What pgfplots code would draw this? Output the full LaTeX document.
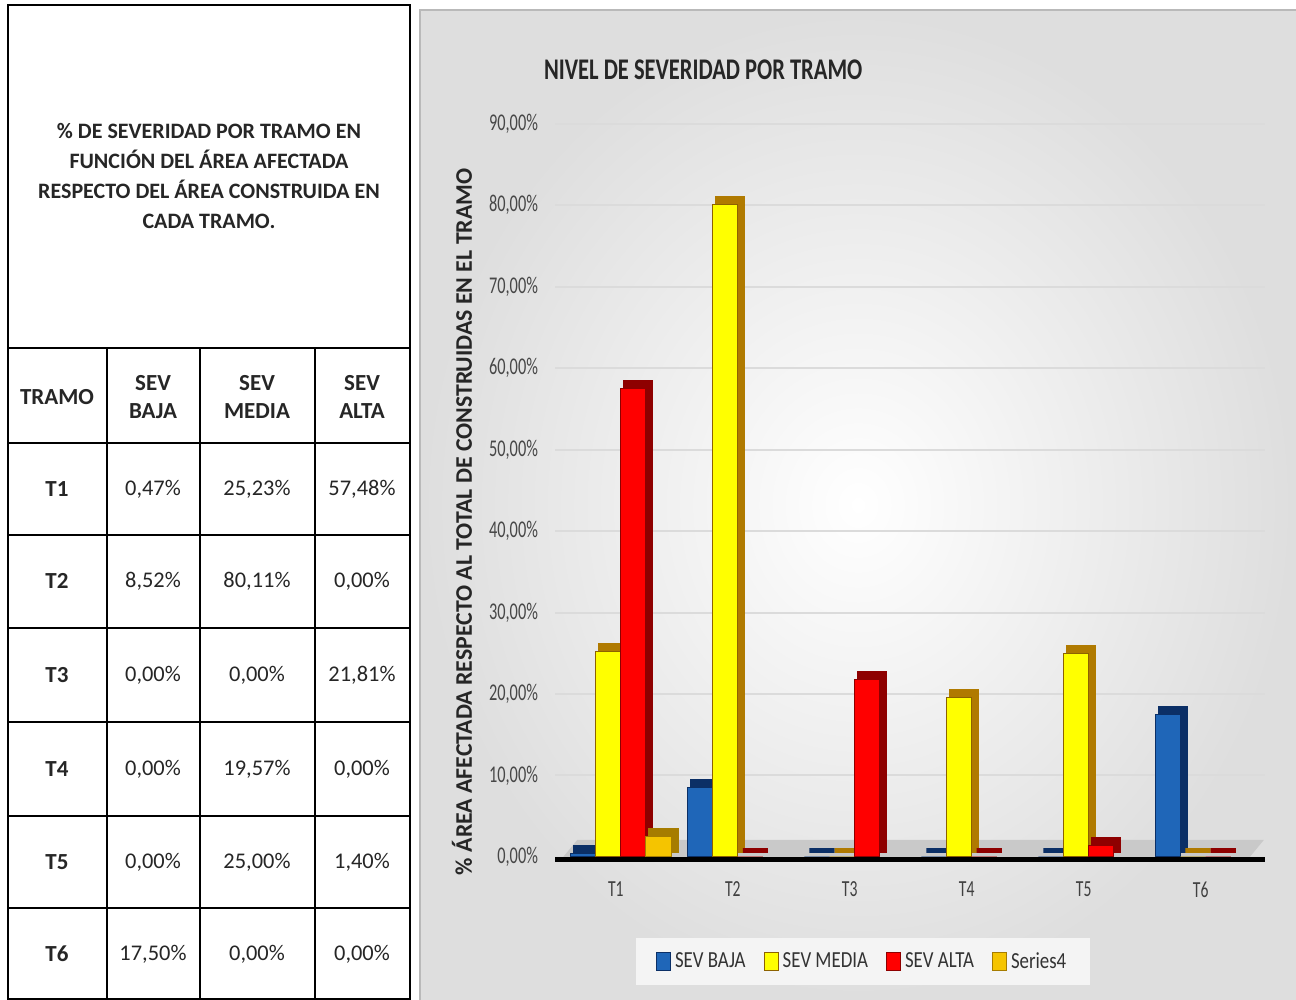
\documentclass[border=0pt]{standalone}
\usepackage{pgfplots}
\usepackage{pgfplotstable}
\pgfplotsset{compat=1.18}
\usepackage{fontspec}
\setmainfont{Carlito}
\newfontfamily\condA[FakeStretch=0.68]{Carlito}
\newfontfamily\condB[FakeStretch=0.82]{Carlito}
\newfontfamily\condT[FakeStretch=0.75]{Carlito}

\definecolor{cblue}{HTML}{1F66B8}
\definecolor{cblueD}{HTML}{0B2F66}
\definecolor{cyel}{HTML}{FFFF00}
\definecolor{cyelD}{HTML}{B07A00}
\definecolor{cred}{HTML}{FF0000}
\definecolor{credD}{HTML}{8E0000}
\definecolor{cgold}{HTML}{F5C400}
\definecolor{cgoldD}{HTML}{A67C00}
\definecolor{txt}{HTML}{262626}

\pgfplotstableread{
x baja media alta s4
0 0.47 25.23 57.48 2.5
1 8.52 80.11 0.00 nan
2 0.00 0.00 21.81 nan
3 0.00 19.57 0.00 nan
4 0.00 25.00 1.40 nan
5 17.50 0.00 0.00 nan
}\data

\pgfplotsset{
  sqleg/.style={legend image code/.code={\draw[##1,line width=0.5pt] (0pt,-4.5pt) rectangle (7pt,4.5pt);}},
  backbar/.style={forget plot, draw=#1, fill=#1, line width=2.5pt, xshift=2.5pt, yshift=3pt},
}

\begin{document}
\begin{tikzpicture}
\useasboundingbox (0,0) rectangle (648pt,500pt);
\fill[white] (0,0) rectangle (648pt,500pt);
\begin{scope}[x=0.5pt,y=-0.5pt,yshift=500pt]
  % chart panel
  \shade[inner color=white, outer color=gray!26] (420,10) rectangle (1296,1000);
  \draw[gray!55,line width=0.8pt] (420,1000) -- (420,10) -- (1296,10);
  % table
  \draw[line width=1.2pt] (8,5) rectangle (410,999);
  \foreach \yy in {348,443,535,628,722,816,908} \draw[line width=1.2pt] (8,\yy) -- (410,\yy);
  \foreach \xx in {107,200,315} \draw[line width=1.2pt] (\xx,348) -- (\xx,999);
  \node[font=\bfseries\fontsize{11}{15}\selectfont, align=center, text=txt] at (209,176)
    {\% DE SEVERIDAD POR TRAMO EN\\FUNCIÓN DEL ÁREA AFECTADA\\RESPECTO DEL ÁREA CONSTRUIDA EN\\CADA TRAMO.};
  \begin{scope}[every node/.style={font=\bfseries\fontsize{11.5}{14}\selectfont, align=center, text=txt}]
    \node at (57,397) {TRAMO};
    \node at (153,397) {SEV\\BAJA};
    \node at (257,397) {SEV\\MEDIA};
    \node at (362,397) {SEV\\ALTA};
  \end{scope}
  \foreach \yy/\t/\a/\b/\c in {489/T1/{0,47}/{25,23}/{57,48}, 581/T2/{8,52}/{80,11}/{0,00}, 675/T3/{0,00}/{0,00}/{21,81},
                               769/T4/{0,00}/{19,57}/{0,00}, 862/T5/{0,00}/{25,00}/{1,40}, 954/T6/{17,50}/{0,00}/{0,00}}{
    \node[font=\bfseries\fontsize{11.5}{14}\selectfont, text=txt] at (57,\yy) {\t};
    \node[font=\fontsize{11.2}{14}\selectfont, text=txt] at (153,\yy) {\a\%};
    \node[font=\fontsize{11.2}{14}\selectfont, text=txt] at (257,\yy) {\b\%};
    \node[font=\fontsize{11.2}{14}\selectfont, text=txt] at (362,\yy) {\c\%};
  }
  % chart title
  \node[anchor=west, font=\condT\bfseries\fontsize{15}{18}\selectfont, text=black!85] at (537,70) {NIVEL DE SEVERIDAD POR TRAMO};
\end{scope}

\begin{axis}[
  at={(277.5pt,71.5pt)}, anchor=south west,
  scale only axis, width=355pt, height=366.75pt,
  xmin=-0.52, xmax=5.55, ymin=0, ymax=90,
  ybar, bar width=0.215,
  axis x line*=bottom, axis y line*=left,
  x axis line style={draw=none}, y axis line style={draw=none},
  major tick length=0pt,
  xtick={0,...,5}, xticklabels={T1,T2,T3,T4,T5,T6},
  xticklabel style={font=\condA\fontsize{11.5}{13}\selectfont, text=black!75, yshift=-9pt},
  ytick={0,10,...,90},
  yticklabels={{0,00\%},{10,00\%},{20,00\%},{30,00\%},{40,00\%},{50,00\%},{60,00\%},{70,00\%},{80,00\%},{90,00\%}},
  yticklabel style={font=\condA\fontsize{12}{13}\selectfont, text=black!72, xshift=-5pt},
  ymajorgrids, grid style={gray!28, line width=1pt},
  ylabel={\% ÁREA AFECTADA RESPECTO AL TOTAL DE CONSTRUIDAS EN EL TRAMO},
  ylabel style={at={(axis description cs:-0.131,0.457)}, anchor=center, font=\bfseries\fontsize{11.9}{13}\selectfont, text=black!85},
  legend columns=4,
  legend style={at={(axis description cs:0.434,-0.143)}, anchor=center, fill=gray!9, draw=none,
    font=\condB\fontsize{11.5}{13}\selectfont, text=black!80, inner xsep=10pt, inner ysep=5pt,
    /tikz/every even column/.append style={column sep=7pt}},
  clip=false,
]
% floor
\fill[gray!42] (axis cs:-0.45,0) -- (axis cs:5.42,0) -- ([xshift=7pt,yshift=8.5pt]axis cs:5.42,0) -- ([xshift=7pt,yshift=8.5pt]axis cs:-0.45,0) -- cycle;
% back (depth) faces
\addplot[backbar=cblueD, bar shift=-0.28] table[x=x,y=baja]{\data};
\addplot[backbar=cyelD,  bar shift=-0.065] table[x=x,y=media]{\data};
\addplot[backbar=credD,  bar shift=0.15] table[x=x,y=alta]{\data};
\addplot[backbar=cgoldD, bar shift=0.365] table[x=x,y=s4]{\data};
% front faces
\addplot[sqleg, fill=cblue, draw=cblueD, line width=0.5pt, bar shift=-0.28] table[x=x,y=baja]{\data};
\addplot[sqleg, fill=cyel, draw=cyelD!80!black, line width=0.5pt, bar shift=-0.065] table[x=x,y=media]{\data};
\addplot[sqleg, fill=cred, draw=credD, line width=0.5pt, bar shift=0.15] table[x=x,y=alta]{\data};
\addplot[sqleg, fill=cgold, draw=cgoldD, line width=0.5pt, bar shift=0.365] table[x=x,y=s4]{\data};
% base line
\draw[black, line width=2.5pt] ([yshift=-1.2pt]axis cs:-0.52,0) -- ([yshift=-1.2pt]axis cs:5.55,0);
\legend{SEV BAJA, SEV MEDIA, SEV ALTA, Series4}
\end{axis}
\end{tikzpicture}
\end{document}
